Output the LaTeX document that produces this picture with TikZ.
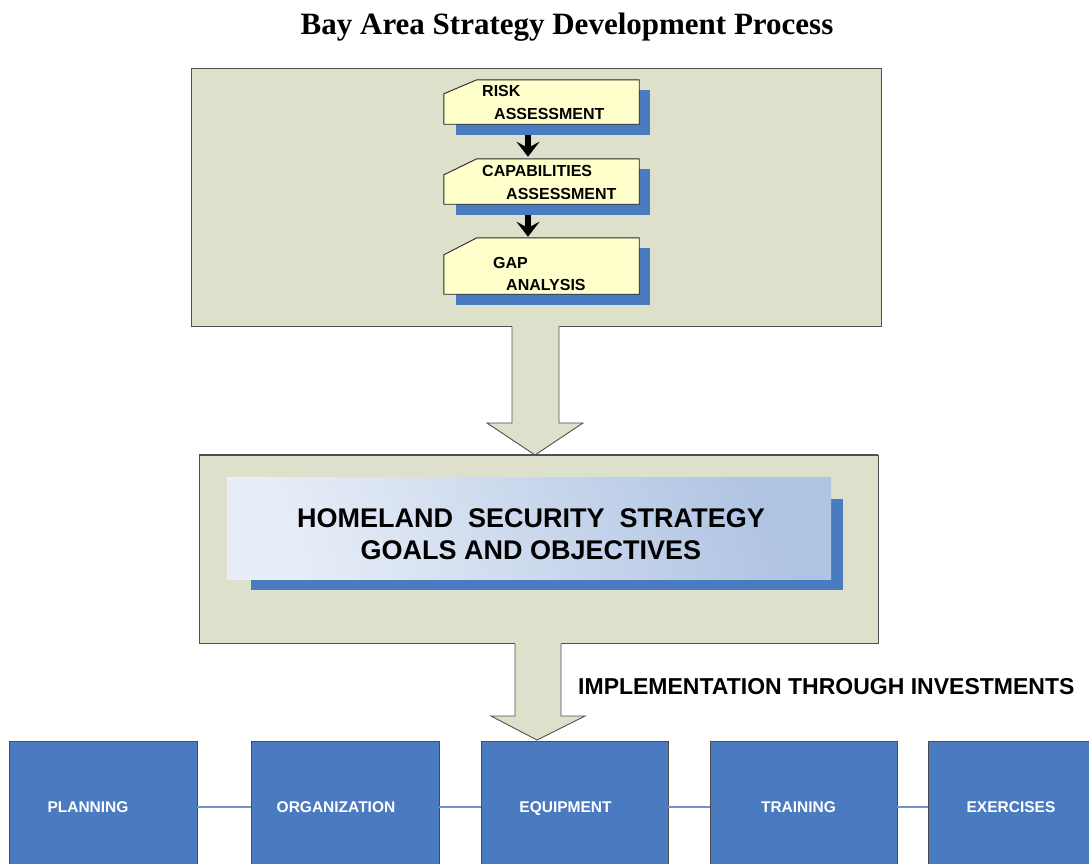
\documentclass[tikz,border=0pt]{standalone}
\usepackage{fontspec}
\setmainfont{Liberation Sans}
\newfontfamily\titleserif{Liberation Serif}
\usetikzlibrary{arrows.meta,calc}
\definecolor{panel}{HTML}{DDE1CC}
\definecolor{panelline}{HTML}{505050}
\definecolor{note}{HTML}{FFFFCC}
\definecolor{shadowblue}{HTML}{4A7BC1}
\definecolor{boxblue}{HTML}{4A7BC1}
\definecolor{linkblue}{HTML}{6F93D0}
\definecolor{gradlight}{HTML}{E8EEF8}
\definecolor{graddark}{HTML}{AFC3E2}
\tikzset{
  panelbox/.style={draw=panelline, fill=panel, line width=0.9pt, inner sep=0pt},
  notebox/.style={draw=black!85, fill=note, line width=0.9pt},
  notetext/.style={anchor=base west, inner sep=0pt, font=\fontsize{16}{18}\selectfont\bfseries},
  blockarrow/.style={fill=panel},
  blockedge/.style={draw=panelline, line width=0.9pt},
  smallarrow/.style={line width=5.5pt, -{Stealth[length=15pt,width=23pt,inset=6pt]}},
  stagebox/.style={draw=black!70, fill=boxblue, line width=0.8pt, minimum width=188pt, minimum height=132pt, inner sep=0pt, text=white, text depth=0pt, font=\fontsize{15.5}{18}\selectfont\bfseries},
  link/.style={draw=linkblue, line width=1.2pt}
}
\begin{document}
\begin{tikzpicture}[x=1pt,y=-1pt]
\useasboundingbox (0,0) rectangle (1089,863);
\fill[white] (0,0) rectangle (1089,863);

% title
\node[inner sep=0pt] (title) at (567,27) {\titleserif\bfseries\fontsize{31}{35}\selectfont Bay Area Strategy Development Process};

% top panel
\node[panelbox, minimum width=690pt, minimum height=258pt] (top) at (536,197) {};

% small boxes (positions)
\node[minimum width=195pt, minimum height=44pt, inner sep=0pt] (risk) at (541.5,102) {};
\node[minimum width=195pt, minimum height=45pt, inner sep=0pt] (cap) at (541.5,181.5) {};
\node[minimum width=195pt, minimum height=56pt, inner sep=0pt] (gap) at (541.5,266) {};

\foreach \b/\c in {risk/14, cap/16, gap/17}{
  \fill[shadowblue] ($(\b.south west)+(12,11)$) rectangle ($(\b.north east)+(11,10)$);
  \draw[notebox] (\b.south west) -- ($(\b.north west)+(0,\c)$) -- ($(\b.north west)+(33,0)$) -- (\b.north east) -- (\b.south east) -- cycle;
}

\node[notetext] (riskA) at (482,96.5) {RISK};
\node[notetext] (riskB) at (494,119.5) {ASSESSMENT};
\node[notetext] (capA) at (482,176) {CAPABILITIES};
\node[notetext] (capB) at (506,199) {ASSESSMENT};
\node[notetext] (gapA) at (493,268) {GAP};
\node[notetext] (gapB) at (506,290) {ANALYSIS};

\draw[smallarrow] ($(risk.south)+(-13.5,11)$) -- ($(cap.north)+(-13.5,-2)$);
\draw[smallarrow] ($(cap.south)+(-13.5,11)$) -- ($(gap.north)+(-13.5,-1)$);

% middle panel
\node[panelbox, minimum width=679pt, minimum height=188pt] (mid) at (538.5,549) {};

% first block arrow (top -> mid)
\fill[blockarrow] (512,324) -- (512,423) -- (487,423) -- (535,455) -- (583,423) -- (559,423) -- (559,324) -- cycle;
\draw[blockedge] (512,326.5) -- (512,423) -- (487,423) -- (535,455) -- (583,423) -- (559,423) -- (559,326.5);
\draw[panelline, line width=0.9pt] (mid.north west) -- (mid.north east);

% goals box
\fill[shadowblue] (251,499) rectangle (843,590);
\shade[left color=gradlight, right color=graddark, shading angle=110] (227,477) rectangle (831,579);
\node[inner sep=0pt, align=center, font=\fontsize{27}{32}\selectfont\bfseries] (goals) at (531,534.5) {HOMELAND\ \ SECURITY\ \ STRATEGY\\GOALS AND OBJECTIVES};

% second block arrow (mid -> equipment)
\fill[blockarrow] (515,641) -- (515,716) -- (491,716) -- (537,740) -- (585,716) -- (561,716) -- (561,641) -- cycle;
\draw[blockedge] (515,643.5) -- (515,716) -- (491,716) -- (537,740) -- (585,716) -- (561,716) -- (561,643.5);

\node[anchor=west, inner sep=0pt, font=\fontsize{23}{26}\selectfont\bfseries] (impl) at (578,687) {IMPLEMENTATION THROUGH INVESTMENTS};

% bottom stages
\node[stagebox] (plan) at (103,807) {\hspace*{-30pt}PLANNING};
\node[stagebox] (org) at (345,807) {\hspace*{-18pt}ORGANIZATION};
\node[stagebox, minimum width=187pt] (equip) at (574.5,807) {\hspace*{-18pt}EQUIPMENT};
\node[stagebox, minimum width=187pt] (train) at (803.5,807) {\hspace*{-10pt}TRAINING};
\node[stagebox] (exer) at (1022,807) {\hspace*{-22pt}EXERCISES};

\draw[link] (plan.east) -- (org.west);
\draw[link] (org.east) -- (equip.west);
\draw[link] (equip.east) -- (train.west);
\draw[link] (train.east) -- (exer.west);
\end{tikzpicture}
\end{document}
